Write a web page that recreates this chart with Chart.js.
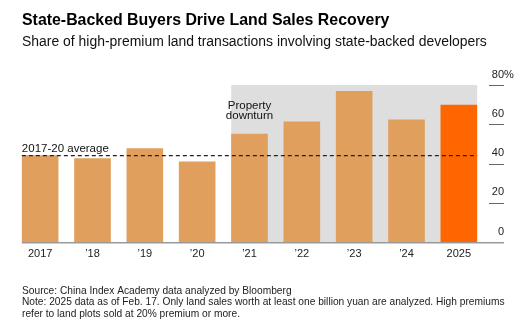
<!DOCTYPE html>
<html>
<head>
<meta charset="utf-8">
<script src="https://cdn.jsdelivr.net/npm/chart.js@4/dist/chart.umd.min.js"></script>
<style>
html,body{margin:0;padding:0;background:#fff;}
canvas{display:block;}
</style>
</head>
<body>
<canvas id="c" width="531" height="326"></canvas>
<script>
const categories = ['2017', '\u201918', '\u201919', '\u201920', '\u201921', '\u201922', '\u201923', '\u201924', '2025'];
const shares = [44.2, 42.7, 47.8, 41.0, 55.1, 61.4, 77.0, 62.4, 70.0];
const average2017to20 = 44;
const yTicks = [0, 20, 40, 60, 80];
const downturnFirst = '\u201921';
const downturnLast = '2025';

const title = 'State-Backed Buyers Drive Land Sales Recovery';
const subtitle = 'Share of high-premium land transactions involving state-backed developers';
const footer = [
  'Source: China Index Academy data analyzed by Bloomberg',
  'Note: 2025 data as of Feb. 17. Only land sales worth at least one billion yuan are analyzed. High premiums',
  'refer to land plots sold at 20% premium or more.'
];

const FONT = '"Liberation Sans", Arial, Helvetica, sans-serif';
const barColors = categories.map((c, i) => i === categories.length - 1 ? '#FF6600' : '#E09F5C');

const overlay = {
  id: 'overlay',
  beforeDatasetsDraw(chart) {
    const ctx = chart.ctx;
    const meta = chart.getDatasetMeta(0);
    const y = chart.scales.y;
    const i0 = categories.indexOf(downturnFirst), i1 = categories.indexOf(downturnLast);
    const b0 = meta.data[i0], b1 = meta.data[i1];
    const left = b0.x - b0.width / 2, right = b1.x + b1.width / 2;
    ctx.save();
    ctx.fillStyle = '#DEDEDE';
    ctx.fillRect(left, y.getPixelForValue(80), right - left, y.getPixelForValue(0) - y.getPixelForValue(80));
    ctx.restore();
  },
  afterDatasetsDraw(chart) {
    const ctx = chart.ctx;
    const meta = chart.getDatasetMeta(0);
    const y = chart.scales.y;
    const first = meta.data[0];
    const last = meta.data[meta.data.length - 1];
    const x0 = first.x - first.width / 2;
    const xEnd = last.x + last.width / 2;
    ctx.save();
    // dashed average line
    const ya = y.getPixelForValue(average2017to20);
    ctx.strokeStyle = '#222';
    ctx.lineWidth = 1.2;
    ctx.setLineDash([4, 3]);
    ctx.beginPath();
    ctx.moveTo(x0, ya);
    ctx.lineTo(xEnd, ya);
    ctx.stroke();
    ctx.setLineDash([]);
    // baseline
    const y0 = y.getPixelForValue(0);
    ctx.strokeStyle = '#9a9a9a';
    ctx.lineWidth = 1.5;
    ctx.beginPath();
    ctx.moveTo(x0, y0 + 0.75);
    ctx.lineTo(504, y0 + 0.75);
    ctx.stroke();
    // y ticks and labels
    ctx.lineWidth = 1;
    ctx.strokeStyle = '#666';
    ctx.fillStyle = '#222';
    ctx.font = '11px ' + FONT;
    ctx.textBaseline = 'middle';
    yTicks.forEach(v => {
      const py = y.getPixelForValue(v);
      if (v !== 0) {
        ctx.beginPath();
        ctx.moveTo(489, Math.round(py) + 0.5);
        ctx.lineTo(504, Math.round(py) + 0.5);
        ctx.stroke();
      }
      ctx.textAlign = 'right';
      ctx.fillText(String(v), 504, py - 10.5);
      if (v === 80) {
        ctx.textAlign = 'left';
        ctx.fillText('%', 504, py - 10.5);
      }
    });
    // annotations
    ctx.textBaseline = 'alphabetic';
    ctx.font = '11.5px ' + FONT;
    ctx.textAlign = 'left';
    ctx.fillStyle = '#111';
    ctx.fillText('2017-20 average', x0, ya - 3.5);
    const bd = meta.data[categories.indexOf(downturnFirst)];
    ctx.textAlign = 'center';
    ctx.fillText('Property', bd.x, 108.5);
    ctx.fillText('downturn', bd.x, 119);
    // title etc.
    ctx.textAlign = 'left';
    ctx.fillStyle = '#000';
    ctx.font = 'bold 15.9px ' + FONT;
    ctx.fillText(title, 22, 25);
    ctx.font = '13.95px ' + FONT;
    ctx.fillStyle = '#111';
    ctx.fillText(subtitle, 22, 45.5);
    ctx.font = '10.2px ' + FONT;
    ctx.fillStyle = '#222';
    footer.forEach((t, i) => ctx.fillText(t, 22, 293.5 + i * 11.7));
    ctx.restore();
  }
};

new Chart(document.getElementById('c'), {
  type: 'bar',
  data: {
    labels: categories,
    datasets: [{
      data: shares,
      backgroundColor: barColors,
      borderWidth: 0,
      categoryPercentage: 1,
      barPercentage: 0.7
    }]
  },
  options: {
    responsive: false,
    devicePixelRatio: 1,
    animation: false,
    events: [],
    layout: { padding: { left: 14, right: 46, top: 85, bottom: 60 } },
    plugins: { legend: { display: false }, tooltip: { enabled: false }, title: { display: false } },
    scales: {
      x: {
        offset: true,
        grid: { display: false, drawTicks: false },
        border: { display: false },
        ticks: { color: '#222', font: { family: FONT, size: 11 }, padding: 5, maxRotation: 0, autoSkip: false },
        afterFit(s) { s.height = 24; }
      },
      y: {
        display: false,
        min: 0,
        max: 80
      }
    }
  },
  plugins: [overlay]
});
</script>
</body>
</html>
